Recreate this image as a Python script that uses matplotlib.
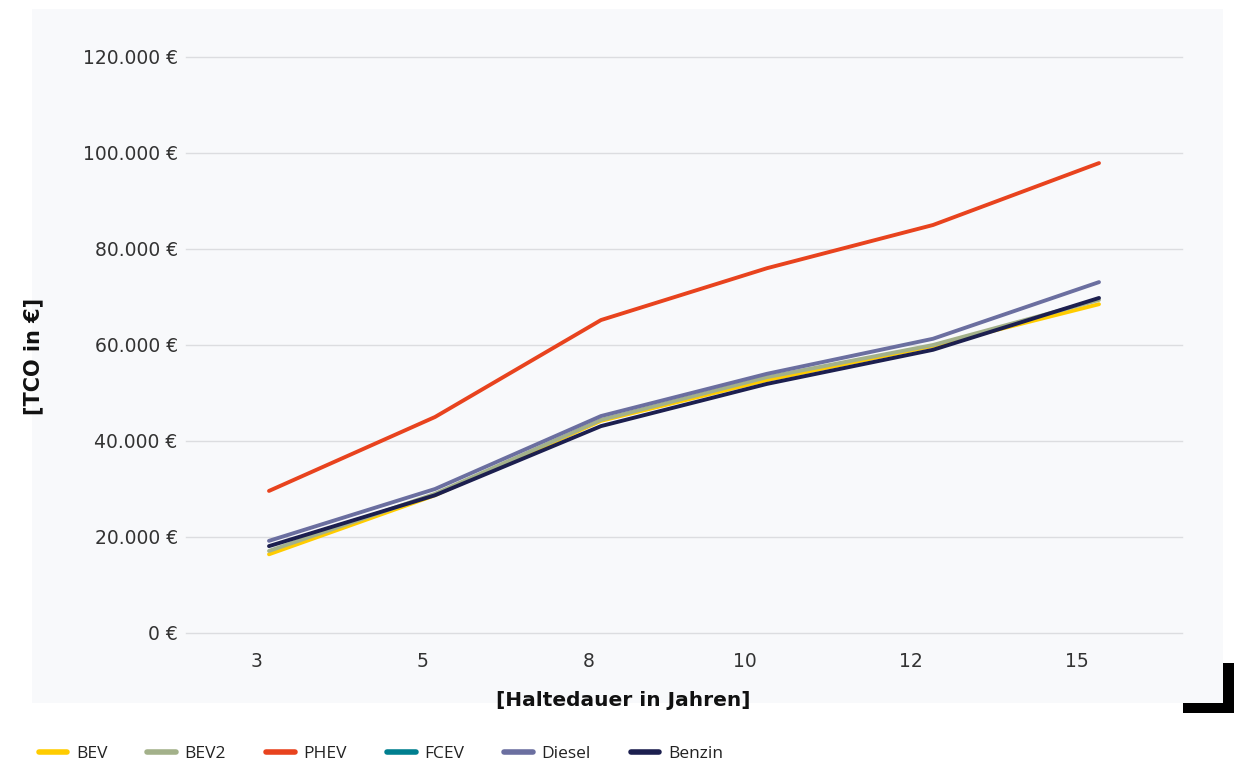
import matplotlib
matplotlib.use("Agg")
import matplotlib.pyplot as plt
from matplotlib.patches import Rectangle
from matplotlib.ticker import FuncFormatter
from matplotlib.transforms import ScaledTranslation

# Holding period categories (years)
years = ["3", "5", "8", "10", "12", "15"]

# Total cost of ownership per drivetrain (EUR)
bev = [16400, 28700, 44200, 52700, 59800, 68500]
bev2 = [17100, 29000, 44400, 53300, 60000, 69400]
phev = [29600, 45000, 65200, 76000, 85000, 97900]
fcev = [None, None, None, None, None, None]
diesel = [19200, 30000, 45200, 54000, 61300, 73100]
benzin = [18100, 28700, 43100, 51900, 59000, 69800]

series = [
    ("BEV", bev, "#FFCC00"),
    ("BEV2", bev2, "#A3B18A"),
    ("PHEV", phev, "#E8431E"),
    ("FCEV", fcev, "#007F8F"),
    ("Diesel", diesel, "#6B6FA0"),
    ("Benzin", benzin, "#1C1F4F"),
]

W, H = 1234, 765
fig = plt.figure(figsize=(W / 100, H / 100), dpi=100)
fig.patch.set_facecolor("white")

# light panel behind the plot
fig.add_artist(Rectangle((32 / W, 1 - 703 / H), (1223 - 32) / W, (703 - 9) / H,
                         transform=fig.transFigure, facecolor="#F8F9FB",
                         edgecolor="none", zorder=0))
# black corner mark
fig.add_artist(Rectangle((1183 / W, 1 - 713 / H), (1234 - 1183) / W, 10 / H,
                         transform=fig.transFigure, facecolor="black",
                         edgecolor="none", zorder=1))
fig.add_artist(Rectangle((1223 / W, 1 - 713 / H), 11 / W, 50 / H,
                         transform=fig.transFigure, facecolor="black",
                         edgecolor="none", zorder=1))

ax = fig.add_axes([186 / W, 1 - 633 / H, (1182 - 186) / W, (633 - 57) / H])
ax.set_facecolor("none")

x = list(range(len(years)))
for name, vals, col in series:
    xs = [i for i, v in zip(x, vals) if v is not None]
    ys = [v for v in vals if v is not None]
    ax.plot(xs, ys, color=col, lw=2.8, label=name, solid_capstyle="round",
            solid_joinstyle="round", zorder=3)

ax.set_xlim(-0.5, len(years) - 0.5)
ax.set_ylim(0, 120000)
ax.set_yticks(range(0, 120001, 20000))
ax.yaxis.set_major_formatter(FuncFormatter(lambda v, p: f"{int(v):,} €".replace(",", ".")))
ax.set_xticks(x)
ax.set_xticklabels(years)
ax.grid(axis="y", color="#DCDDE0", lw=1)
ax.grid(axis="x", visible=False)
for gl in ax.yaxis.get_gridlines():
    gl.set_clip_on(False)
for s in ax.spines.values():
    s.set_visible(False)
ax.tick_params(axis="both", length=0, labelsize=13.5, labelcolor="#333333")
ax.tick_params(axis="y", pad=6)
ax.tick_params(axis="x", pad=14)
for lbl in ax.get_xticklabels():
    dx = -22 if len(lbl.get_text()) > 1 else -12
    lbl.set_transform(lbl.get_transform() + ScaledTranslation(dx / 100, 0, fig.dpi_scale_trans))

fig.text(623 / W, 1 - 700 / H, "[Haltedauer in Jahren]", ha="center", va="center",
         fontsize=14.5, fontweight="bold", color="#111111", family="DejaVu Sans")
fig.text(33 / W, 1 - 356 / H, "[TCO in €]", ha="center", va="center", rotation=90,
         fontsize=15, fontweight="bold", color="#111111", family="DejaVu Sans")

handles, labels = ax.get_legend_handles_labels()
leg = fig.legend(handles, labels, loc="center left", bbox_to_anchor=(23 / W, 1 - 754 / H),
                 ncol=6, frameon=False, handlelength=1.65, handletextpad=0.5,
                 columnspacing=2.3, prop={"family": "Open Sans", "size": 12.5})
for ln in leg.get_lines():
    ln.set_linewidth(4)
    ln.set_solid_capstyle("round")
for t in leg.get_texts():
    t.set_color("#222222")

fig.savefig("out.png", dpi=100)
